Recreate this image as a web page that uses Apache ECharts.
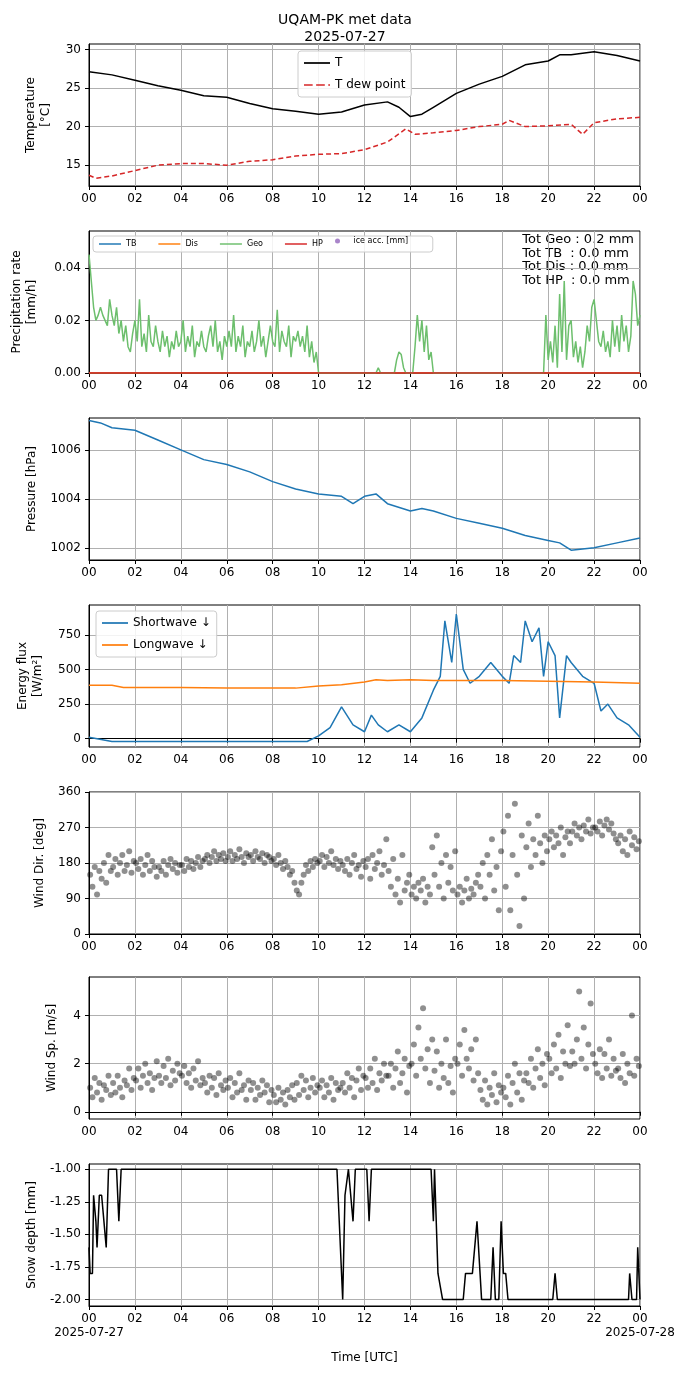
<!DOCTYPE html><html><head><meta charset="utf-8">
<script src="https://cdn.jsdelivr.net/npm/echarts@6/dist/echarts.min.js"></script>
<style>body{margin:0}#c{width:690px;height:1376px}</style></head><body><div id="c"></div>
<script>
const tempT=[[0,27.1],[1,26.7],[2,26.0],[3,25.3],[4,24.7],[5,24.0],[6,23.8],[7,23.0],[8,22.3],[9,22.0],[10,21.6],[11,21.9],[12,22.8],[13,23.2],[13.5,22.5],[14,21.3],[14.5,21.6],[15,22.5],[16,24.3],[17,25.5],[18,26.5],[19,28.0],[20,28.5],[20.5,29.3],[21,29.3],[22,29.7],[23,29.2],[24,28.5]];
const tempTd=[[0,13.7],[0.3,13.3],[1,13.6],[2,14.3],[3,15.0],[4,15.2],[5,15.2],[6,15.0],[7,15.5],[8,15.7],[9,16.2],[10,16.4],[11,16.5],[12,17.0],[13,18.0],[13.8,19.7],[14.2,19.0],[15,19.2],[16,19.5],[17,20.0],[18,20.3],[18.3,20.8],[19,20.0],[20,20.1],[21,20.3],[21.5,19.0],[22,20.5],[23,21.0],[24,21.2]];
const geoEarly=[0.045,0.035,0.025,0.02,0.022,0.025,0.022,0.02,0.018,0.028,0.022,0.018,0.025,0.015,0.02,0.012,0.018,0.01,0.008,0.015,0.02,0.012,0.028,0.01,0.015,0.008,0.022,0.012,0.01,0.018,0.012,0.008,0.016,0.01,0.014,0.006,0.012,0.009,0.016,0.01,0.012,0.02,0.008,0.014,0.01,0.018,0.006,0.012,0.01,0.016,0.01,0.008,0.014,0.018,0.01,0.02,0.008,0.012,0.005,0.014,0.01,0.016,0.01,0.022,0.008,0.014,0.01,0.018,0.006,0.012,0.01,0.016,0.008,0.012,0.02,0.01,0.014,0.006,0.012,0.018,0.012,0.01,0.024,0.008,0.016,0.012,0.01,0.018,0.006,0.014,0.012,0.016,0.01,0.014,0.008,0.018,0.006,0.012,0.004,0.008,0];
const geoMid=[[12.5,0],[12.6,0.002],[12.7,0],[13.3,0],[13.4,0.005],[13.5,0.008],[13.6,0.007],[13.7,0.002],[13.8,0],[14.1,0],[14.2,0.01],[14.3,0.022],[14.4,0.012],[14.5,0.02],[14.6,0.008],[14.7,0.018],[14.8,0.005],[14.9,0.008],[15.0,0],[19.8,0]];
const geoLate=[0.022,0.005,0.012,0.004,0.018,0.002,0.03,0.008,0.035,0.005,0.018,0.02,0.006,0.012,0.004,0.01,0.002,0.008,0.018,0.012,0.025,0.028,0.02,0.012,0.01,0.016,0.008,0.012,0.006,0.02,0.01,0.018,0.008,0.022,0.012,0.018,0.008,0.014,0.035,0.03,0.018,0.022];
const pressure=[[0,1007.2],[0.5,1007.1],[1,1006.9],[2,1006.8],[3,1006.4],[4,1006.0],[5,1005.6],[6,1005.4],[7,1005.1],[8,1004.7],[9,1004.4],[10,1004.2],[11,1004.1],[11.5,1003.8],[12,1004.1],[12.5,1004.2],[13,1003.8],[14,1003.5],[14.5,1003.6],[15,1003.5],[16,1003.2],[17,1003.0],[18,1002.8],[19,1002.5],[20,1002.3],[20.5,1002.2],[21,1001.9],[22,1002.0],[23,1002.2],[24,1002.4]];
const shortwave=[[0,10],[1,-20],[9.5,-20],[10,20],[10.5,80],[11,230],[11.5,100],[12,50],[12.3,170],[12.6,100],[13,50],[13.5,100],[14,50],[14.5,150],[15,350],[15.3,450],[15.5,850],[15.8,550],[16,900],[16.3,500],[16.6,400],[17,450],[17.5,550],[18,450],[18.3,400],[18.5,600],[18.8,550],[19,850],[19.3,700],[19.6,800],[19.8,450],[20,700],[20.3,600],[20.5,150],[20.8,600],[21,550],[21.5,450],[22,400],[22.3,200],[22.6,250],[23,150],[23.5,100],[24,10]];
const longwave=[[0,385],[1,385],[1.5,370],[4,370],[6,365],[9,365],[10,380],[11,390],[12,410],[12.5,425],[13,420],[14,425],[15,420],[16,420],[18,420],[20,415],[22,410],[24,400]];
const windDir=[150,120,170,100,160,140,180,130,200,160,170,190,150,180,200,160,175,210,155,185,180,165,190,150,175,200,160,185,170,145,170,160,185,150,175,190,165,180,155,175,175,160,190,170,185,165,180,195,170,185,190,200,180,195,210,185,200,190,205,185,195,210,185,200,190,215,195,180,205,195,200,185,210,195,190,205,180,200,195,185,190,175,200,180,165,185,170,150,160,130,110,100,130,150,175,160,185,170,190,180,185,200,170,195,180,210,175,190,165,185,175,160,190,150,180,200,165,175,145,185,170,190,140,200,165,180,210,150,175,240,160,120,190,100,140,80,200,110,130,150,100,120,90,130,110,140,80,120,100,220,150,250,120,180,90,200,130,170,110,210,100,120,80,110,140,90,115,100,130,150,120,180,90,200,150,240,110,170,60,210,260,120,300,60,200,330,150,20,250,90,220,280,170,240,200,300,230,180,250,210,240,260,220,250,230,270,200,245,260,230,260,280,250,270,240,275,260,290,255,270,270,260,285,250,275,290,265,280,255,240,230,250,210,240,200,260,225,245,215,235];
const windSp=[1.0,0.6,1.4,0.8,1.2,0.5,1.1,0.9,1.5,0.7,1.2,0.8,1.5,1.0,0.6,1.3,1.1,1.8,0.9,1.4,1.3,1.8,1.0,1.5,2.0,1.2,1.6,0.9,1.4,2.1,1.5,1.2,1.9,1.4,2.2,1.1,1.7,1.3,2.0,1.6,1.5,1.9,1.2,1.6,1.0,1.8,1.3,2.1,1.1,1.4,1.2,0.8,1.5,1.0,1.4,0.7,1.6,1.1,0.9,1.3,1.0,1.4,0.6,1.2,0.8,1.6,0.9,1.1,0.5,1.3,0.9,1.2,0.5,1.0,0.7,1.3,0.8,1.1,0.4,0.9,0.7,0.4,1.0,0.5,0.8,0.3,0.9,0.6,1.1,0.5,1.2,0.7,1.5,0.9,1.3,0.6,1.0,1.4,0.8,1.1,1.0,1.3,0.6,1.1,0.8,1.4,0.5,1.2,0.9,1.0,1.2,0.8,1.6,1.0,1.4,0.6,1.3,1.8,0.9,1.5,1.4,1.0,1.8,1.2,2.2,0.9,1.6,1.3,2.0,1.5,1.5,2.0,1.0,1.8,2.5,1.2,1.6,2.2,0.8,1.9,2.0,2.8,1.5,3.5,2.2,4.3,1.8,2.6,1.2,3.0,1.7,2.5,1.0,2.0,1.4,3.0,1.2,1.9,0.8,2.2,2.0,2.8,1.5,3.4,2.2,1.8,2.6,1.3,3.0,1.6,0.9,0.5,1.3,0.3,1.0,0.7,1.6,0.4,1.1,0.8,1.0,0.6,1.5,0.3,1.2,2.0,0.8,1.6,0.5,1.3,1.6,1.2,2.2,1.0,1.8,2.6,1.4,2.0,1.1,2.4,2.2,1.6,2.8,1.8,3.2,1.4,2.5,2.0,3.6,1.9,2.5,2.0,3.0,5.0,2.2,3.5,1.8,2.8,4.5,2.4,2.0,1.6,2.6,1.4,2.4,1.8,3.0,1.5,2.2,1.7,1.8,1.4,2.4,1.2,2.0,1.6,4.0,1.5,2.2,1.9];
const snow=[[0,-1.6],[0.05,-1.8],[0.15,-1.8],[0.2,-1.2],[0.3,-1.4],[0.35,-1.6],[0.45,-1.2],[0.55,-1.2],[0.65,-1.4],[0.75,-1.6],[0.85,-1.0],[1.2,-1.0],[1.3,-1.4],[1.4,-1.0],[10.8,-1.0],[10.9,-1.4],[11.05,-2.0],[11.15,-1.2],[11.3,-1.0],[11.5,-1.4],[11.6,-1.0],[12.1,-1.0],[12.2,-1.4],[12.3,-1.0],[14.9,-1.0],[15.0,-1.4],[15.05,-1.0],[15.2,-1.8],[15.4,-2.0],[16.3,-2.0],[16.4,-1.8],[16.7,-1.8],[16.9,-1.4],[17.1,-2.0],[17.5,-2.0],[17.6,-1.6],[17.7,-2.0],[17.85,-2.0],[17.95,-1.4],[18.05,-1.8],[18.15,-1.8],[18.25,-2.0],[20.2,-2.0],[20.3,-1.8],[20.4,-2.0],[23.5,-2.0],[23.55,-1.8],[23.65,-2.0],[23.85,-2.0],[23.9,-1.6],[24,-2.0]];
const xTicks=[0,2,4,6,8,10,12,14,16,18,20,22,24];
const totals=['Tot Geo : 0.2 mm','Tot TB  : 0.0 mm','Tot Dis : 0.0 mm','Tot HP  : 0.0 mm'];

const geo=[].concat(geoEarly.map((v,i)=>[i*0.1,v]),geoMid,geoLate.map((v,i)=>[19.9+i*0.1,v]));
const dirPts=windDir.map((v,i)=>[i*0.1+0.05,v]);
const spPts=windSp.map((v,i)=>[i*0.1+0.05,v]);
const tops=[44,231,418,605,792,977,1164];
const F='DejaVu Sans';
const pad=h=>String(h%24).padStart(2,'0');
const grids=tops.map(t=>({left:89,right:50,top:t,height:142,show:true,borderColor:'#000',borderWidth:1}));
const xAxes=tops.map((t,i)=>({type:'value',gridIndex:i,min:0,max:24,interval:2,
 axisLine:{lineStyle:{color:'#000'}},axisTick:{show:true,length:4,lineStyle:{color:'#000'}},
 splitLine:{show:true,lineStyle:{color:'#b0b0b0'}},
 axisLabel:{color:'#000',fontFamily:F,fontSize:12,margin:6,formatter:v=>{let s=pad(v);if(i==6&&v==0)s+='\n2025-07-27';if(i==6&&v==24)s+='\n2025-07-28';return s;},lineHeight:14},
 name:i==6?'Time [UTC]':'',nameLocation:'middle',nameGap:46,nameTextStyle:{color:'#000',fontFamily:F,fontSize:12}}));
function yA(i,min,max,ticks,name,fmt,gap){return {type:'value',gridIndex:i,min,max,
 axisLine:{show:true,lineStyle:{color:'#000'}},axisTick:{show:true,length:4,customValues:ticks,lineStyle:{color:'#000'}},
 splitLine:{show:true,lineStyle:{color:'#b0b0b0'}},
 axisLabel:{customValues:ticks,color:'#000',fontFamily:F,fontSize:12,formatter:fmt||(v=>String(v))},
 name,nameLocation:'middle',nameGap:gap,nameRotate:90,nameTextStyle:{color:'#000',fontFamily:F,fontSize:12,lineHeight:15}};}
const yAxes=[
 yA(0,12.3,30.7,[15,20,25,30],'Temperature\n[°C]',null,36),
 yA(1,0,0.054,[0,0.02,0.04],'Precipitation rate\n[mm/h]',v=>v.toFixed(2),50),
 yA(2,1001.5,1007.3,[1002,1004,1006],'Pressure [hPa]',null,48),
 yA(3,-60,965,[0,250,500,750],'Energy flux\n[W/m²]',null,44),
 yA(4,0,360,[0,90,180,270,360],'Wind Dir. [deg]',null,36),
 yA(5,-0.3,5.6,[0,2,4],'Wind Sp. [m/s]',null,30),
 yA(6,-2.05,-0.96,[-2,-1.75,-1.5,-1.25,-1],'Snow depth [mm]',v=>v.toFixed(2),48)];
function ln(i,name,data,color,extra){return Object.assign({type:'line',name,xAxisIndex:i,yAxisIndex:i,data,symbol:'none',lineStyle:{color,width:1.5},itemStyle:{color}},extra||{});}
const zero=[[0,0],[24,0]];
const series=[
 ln(0,'T',tempT,'#000'),
 ln(0,'T dew point',tempTd,'#d62728',{lineStyle:{color:'#d62728',width:1.5,type:[5,3]}}),
 ln(1,'TB',zero,'#1f77b4'),
 ln(1,'Dis',zero,'#ff7f0e'),
 ln(1,'Geo',geo,'#6dbf6d'),
 ln(1,'HP',zero,'#d62728'),
 {type:'scatter',name:'ice acc. [mm]',xAxisIndex:1,yAxisIndex:1,data:[],itemStyle:{color:'#9467bd'}},
 ln(2,'P',pressure,'#1f77b4'),
 ln(3,'Shortwave ↓',shortwave,'#1f77b4'),
 ln(3,'Longwave ↓',longwave,'#ff7f0e'),
 {type:'scatter',xAxisIndex:4,yAxisIndex:4,data:dirPts,symbolSize:6,itemStyle:{color:'rgba(0,0,0,0.55)'}},
 {type:'scatter',xAxisIndex:5,yAxisIndex:5,data:spPts,symbolSize:6,itemStyle:{color:'rgba(0,0,0,0.55)'}},
 ln(6,'S',snow,'#000')];
const lg={backgroundColor:'rgba(255,255,255,0.85)',borderColor:'#ccc',borderWidth:1,borderRadius:3,textStyle:{fontFamily:F,color:'#000'}};
const legend=[
 Object.assign({},lg,{data:[{name:'T',icon:'path://M0,0H30V2H0Z'},{name:'T dew point',icon:'path://M0,0H10V2H0ZM14,0H24V2H14ZM28,0H30V2H28Z'}],orient:'vertical',left:298,top:51,itemWidth:26,itemHeight:2,itemGap:10,padding:[6,6],textStyle:{fontFamily:F,fontSize:12,color:'#000'}}),
 Object.assign({},lg,{data:['TB','Dis','Geo','HP'].map(n=>({name:n,icon:'path://M0,0H30V2H0Z'})),left:93,top:236,itemWidth:22,itemHeight:2,itemGap:22,padding:[4,110,4,6],textStyle:{fontFamily:F,fontSize:8,color:'#000'}}),
 {data:[{name:'ice acc. [mm]',icon:'circle'}],left:335,top:237,itemWidth:22,itemHeight:5,padding:0,textStyle:{fontFamily:F,fontSize:8,color:'#000'}},
 Object.assign({},lg,{data:[{name:'Shortwave ↓',icon:'path://M0,0H30V2H0Z'},{name:'Longwave ↓',icon:'path://M0,0H30V2H0Z'}],orient:'vertical',left:96,top:611,itemWidth:26,itemHeight:2,itemGap:10,padding:[6,6],textStyle:{fontFamily:F,fontSize:12,color:'#000'}})];
const chart=echarts.init(document.getElementById('c'),null,{renderer:'canvas'});
chart.setOption({animation:false,backgroundColor:'#fff',
 title:{text:'UQAM-PK met data\n2025-07-27',left:'center',top:7,textStyle:{fontFamily:F,fontSize:14,fontWeight:'normal',color:'#000',lineHeight:17}},
 grid:grids,xAxis:xAxes,yAxis:yAxes,series,legend,
 graphic:[{type:'text',right:56,top:233,style:{text:totals.join('\n'),font:'13px "DejaVu Sans"',lineHeight:13.5,align:'right',fill:'#000'}}]});
</script></body></html>
